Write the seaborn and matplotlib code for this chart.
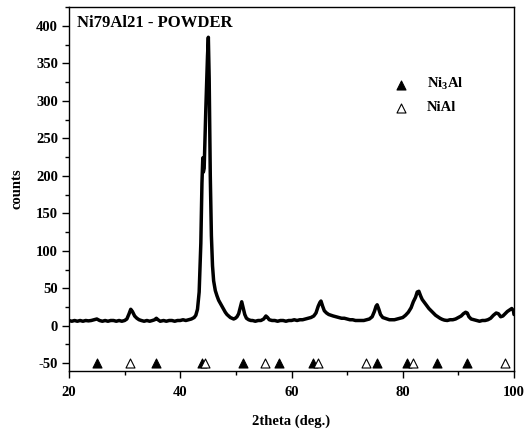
import matplotlib
matplotlib.use("Agg")
import matplotlib.pyplot as plt
import seaborn as sns
import pandas as pd
from matplotlib.ticker import MultipleLocator

# XRD pattern (2theta, counts)
two_theta = [20.0, 20.5, 21.0, 21.5, 22.0, 22.5, 23.0, 23.5, 24.0, 24.5, 25.0, 25.5, 26.0, 26.5,
             27.0, 27.5, 28.0, 28.5, 29.0, 29.5, 30.0, 30.4, 30.8, 31.1, 31.4, 31.8, 32.2, 32.6,
             33.0, 33.5, 34.0, 34.5, 35.0, 35.4, 35.7, 36.0, 36.4, 37.0, 37.5, 38.0, 38.5, 39.0,
             39.5, 40.0, 40.5, 41.0, 41.5, 42.0, 42.5, 42.8, 43.1, 43.4, 43.7, 43.9, 44.05, 44.15,
             44.3, 44.6, 44.9, 45.05, 45.2, 45.4, 45.6, 45.8, 46.0, 46.3, 46.6, 46.9, 47.2, 47.5,
             47.8, 48.1, 48.4, 48.7, 49.0, 49.3, 49.6, 49.9, 50.2, 50.5, 50.8, 51.05, 51.3, 51.6,
             51.9, 52.3, 52.7, 53.0, 53.5, 54.0, 54.5, 55.0, 55.4, 55.7, 56.0, 56.5, 57.0, 57.5,
             58.0, 58.5, 59.0, 59.5, 60.0, 60.5, 61.0, 61.5, 62.0, 62.5, 63.0, 63.5, 64.0, 64.4,
             64.8, 65.1, 65.3, 65.6, 65.9, 66.3, 66.7, 67.1, 67.5, 68.0, 68.5, 69.0, 69.5, 70.0,
             70.5, 71.0, 71.5, 72.0, 72.5, 73.0, 73.5, 74.0, 74.5, 74.9, 75.2, 75.4, 75.7, 76.0,
             76.4, 76.8, 77.2, 77.6, 78.0, 78.5, 79.0, 79.5, 80.0, 80.5, 81.0, 81.5, 81.9, 82.3,
             82.6, 82.9, 83.2, 83.5, 83.9, 84.3, 84.7, 85.1, 85.5, 85.9, 86.3, 86.7, 87.1, 87.5,
             88.0, 88.5, 89.0, 89.5, 90.0, 90.5, 90.9, 91.3, 91.6, 91.9, 92.3, 92.8, 93.3, 93.8,
             94.3, 94.8, 95.3, 95.8, 96.3, 96.8, 97.2, 97.6, 98.0, 98.4, 98.8, 99.2, 99.6, 99.9,
             100.0]
counts = [7, 6, 7, 6, 7, 6, 7, 6.5, 7, 8, 9, 7, 6, 7,
          6, 7, 7, 6, 7, 6, 7, 9, 16, 22, 19, 13, 10, 8,
          7, 6, 7, 6, 7, 8, 10, 8, 6, 7, 6, 7, 7, 6,
          7, 7, 8, 7, 8, 9, 11, 14, 22, 45, 110, 190, 224, 205,
          210, 290, 360, 385, 330, 200, 120, 80, 60, 47, 40, 34, 30, 26,
          22, 18, 15, 13, 11, 10, 9, 10, 12, 16, 25, 32, 24, 15,
          10, 8, 7, 7, 6, 7, 7, 9, 13, 11, 8, 7, 7, 6,
          7, 7, 6, 7, 7, 8, 7, 8, 8, 9, 10, 11, 13, 17,
          26, 31, 33, 26, 20, 17, 15, 14, 13, 12, 11, 10, 10, 9,
          8, 8, 7, 7, 7, 7, 8, 9, 12, 19, 26, 28, 22, 15,
          11, 10, 9, 8, 8, 8, 9, 10, 11, 14, 18, 24, 32, 38,
          45, 46, 40, 35, 31, 27, 23, 20, 17, 14, 12, 10, 8.5, 7.5,
          7, 8, 8, 9, 11, 13, 16, 18, 17, 12, 9, 8, 7, 6,
          7, 7, 8, 10, 14, 17, 16, 12, 13, 16, 19, 21, 23, 20,
          15]

# Reflection positions (2theta)
ni3al_pos = [25.0, 35.6, 43.9, 51.2, 57.8, 63.8, 75.3, 80.7, 86.2, 91.5]
nial_pos = [31.0, 44.5, 55.3, 64.7, 73.4, 81.9, 98.4]
marker_level = -50

x_ticks = [20, 40, 60, 80, 100]
y_ticks = [-50, 0, 50, 100, 150, 200, 250, 300, 350, 400]

sns.set_style("ticks")
plt.rcParams["font.family"] = ["Liberation Serif", "DejaVu Serif"]
plt.rcParams["font.weight"] = "bold"
plt.rcParams["text.color"] = "black"
plt.rcParams["axes.labelcolor"] = "black"
plt.rcParams["xtick.color"] = "black"
plt.rcParams["ytick.color"] = "black"
plt.rcParams["axes.unicode_minus"] = False
plt.rcParams["mathtext.fontset"] = "custom"
plt.rcParams["mathtext.rm"] = "Liberation Serif:bold"
plt.rcParams["mathtext.it"] = "Liberation Serif:bold"
plt.rcParams["mathtext.bf"] = "Liberation Serif:bold"

fig = plt.figure(figsize=(5.28, 4.33), dpi=100)
ax = fig.add_axes([69 / 528, 1 - 370.7 / 433, (514 - 69) / 528, (370.7 - 7.3) / 433])

df = pd.DataFrame({"two_theta": two_theta, "counts": counts})
sns.lineplot(data=df, x="two_theta", y="counts", sort=False, color="black",
             linewidth=2.5, ax=ax, legend=False)

df_a = pd.DataFrame({"x": ni3al_pos, "y": [marker_level] * len(ni3al_pos)})
df_b = pd.DataFrame({"x": nial_pos, "y": [marker_level] * len(nial_pos)})
sns.scatterplot(data=df_a, x="x", y="y", marker="^", s=42, color="black",
                edgecolor="black", linewidth=0.8, ax=ax, label="Ni$_3$Al", zorder=3)
sns.scatterplot(data=df_b, x="x", y="y", marker="^", s=42, color="white",
                edgecolor="black", linewidth=0.8, ax=ax, label="NiAl", zorder=3)

ax.set_xlim(20, 100)
ax.set_ylim(-60, 425)
ax.set_xticks(x_ticks)
ax.set_yticks(y_ticks)
ax.xaxis.set_minor_locator(MultipleLocator(10))
ax.yaxis.set_minor_locator(MultipleLocator(25))
ax.tick_params(axis="both", which="major", direction="out", length=5, width=1,
               labelsize=10.5, top=False, right=False, pad=3)
ax.tick_params(axis="x", which="major", pad=6)
ax.tick_params(axis="both", which="minor", direction="out", length=3, width=1,
               top=False, right=False)
for lab in ax.get_xticklabels() + ax.get_yticklabels():
    lab.set_fontweight("bold")
for sp in ax.spines.values():
    sp.set_visible(True)
    sp.set_linewidth(1.0)
    sp.set_color("black")

ax.set_xlabel("2theta (deg.)", fontsize=10.5, fontweight="bold", labelpad=11)
ax.set_ylabel("counts", fontsize=10.5, fontweight="bold", labelpad=9)

ax.text(0.018, 0.978, "Ni79Al21 - POWDER", transform=ax.transAxes, ha="left", va="top",
        fontsize=12, fontweight="bold")

leg = ax.legend(loc="upper left", bbox_to_anchor=(0.70, 0.826), frameon=False,
                fontsize=10.5, handletextpad=0.8, labelspacing=0.6, borderaxespad=0)
for t in leg.get_texts():
    t.set_fontweight("bold")

fig.savefig("out.png", dpi=100)
